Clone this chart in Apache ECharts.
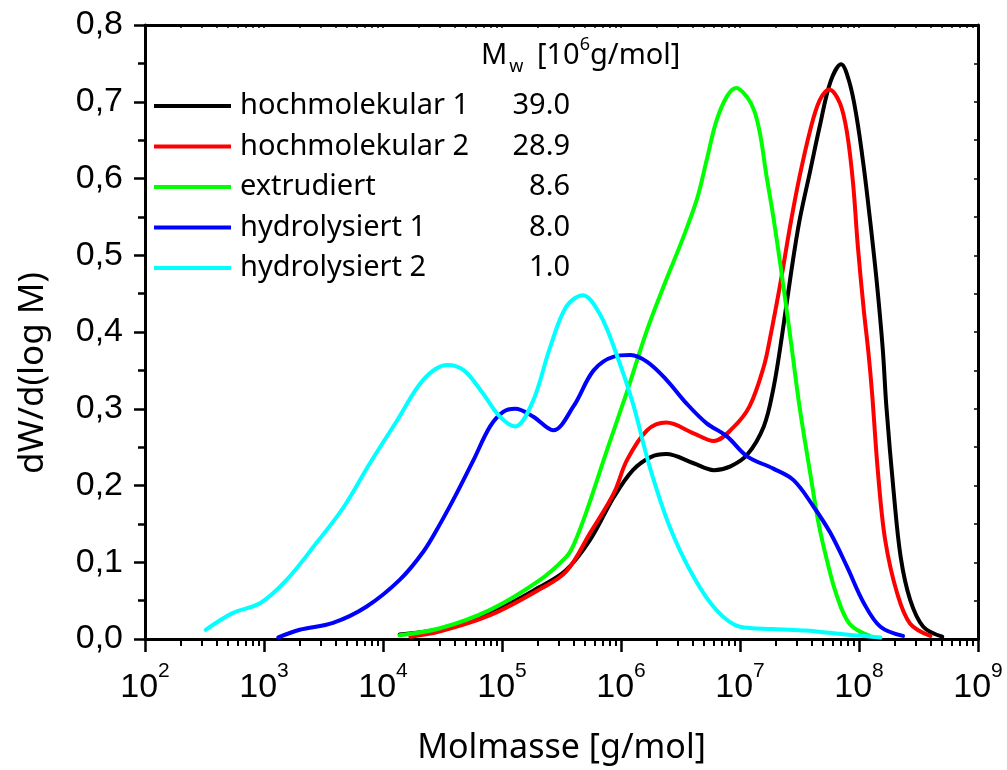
<!DOCTYPE html>
<html style="height: 100%">
<head>
<meta charset="utf-8">
<title>Molmassenverteilung</title>
<script src="https://cdn.jsdelivr.net/npm/echarts@6/dist/echarts.min.js"></script>
</head>
<body style="height: 100%; margin: 0; background: #fff">
<div id="main" style="width: 1007px; height: 770px;"></div>
<script type="text/javascript">
// x = log10(M / g/mol), y = dW/d(log M)
var hochmolekular1 = [[4.14,0.006],[4.48,0.013],[4.90,0.034],[5.32,0.068],[5.54,0.090],[5.74,0.129],[5.94,0.185],[6.10,0.220],[6.25,0.237],[6.38,0.241],[6.61,0.229],[6.78,0.220],[6.92,0.225],[7.06,0.240],[7.20,0.277],[7.28,0.326],[7.35,0.392],[7.43,0.478],[7.50,0.545],[7.59,0.610],[7.67,0.668],[7.76,0.726],[7.85,0.749],[7.92,0.725],[7.98,0.680],[8.04,0.615],[8.09,0.550],[8.15,0.464],[8.20,0.377],[8.23,0.303],[8.29,0.194],[8.35,0.107],[8.43,0.051],[8.54,0.016],[8.70,0.003]];
var hochmolekular2 = [[4.23,0.003],[4.48,0.010],[4.90,0.031],[5.32,0.065],[5.54,0.088],[5.74,0.138],[5.94,0.190],[6.05,0.233],[6.22,0.272],[6.38,0.282],[6.61,0.268],[6.78,0.258],[6.94,0.275],[7.08,0.303],[7.20,0.355],[7.25,0.390],[7.34,0.464],[7.42,0.537],[7.50,0.602],[7.59,0.663],[7.67,0.702],[7.75,0.716],[7.84,0.698],[7.90,0.659],[7.95,0.594],[7.99,0.512],[8.04,0.429],[8.08,0.372],[8.11,0.320],[8.16,0.216],[8.22,0.129],[8.32,0.060],[8.43,0.020],[8.60,0.004]];
var extrudiert = [[4.14,0.005],[4.48,0.014],[4.90,0.038],[5.32,0.077],[5.54,0.107],[5.60,0.122],[5.71,0.166],[5.88,0.245],[6.05,0.322],[6.22,0.403],[6.38,0.468],[6.52,0.522],[6.64,0.574],[6.72,0.624],[6.80,0.674],[6.89,0.707],[6.97,0.718],[7.06,0.706],[7.12,0.688],[7.17,0.657],[7.22,0.606],[7.28,0.550],[7.34,0.487],[7.39,0.431],[7.43,0.385],[7.50,0.303],[7.59,0.216],[7.66,0.151],[7.73,0.103],[7.81,0.058],[7.92,0.020],[8.09,0.004]];
var hydrolysiert1 = [[3.12,0.002],[3.30,0.012],[3.58,0.021],[3.86,0.042],[4.14,0.077],[4.34,0.114],[4.48,0.150],[4.62,0.190],[4.76,0.233],[4.90,0.277],[5.01,0.296],[5.11,0.300],[5.26,0.290],[5.43,0.272],[5.60,0.303],[5.77,0.350],[5.94,0.368],[6.08,0.370],[6.22,0.361],[6.38,0.338],[6.55,0.307],[6.72,0.281],[6.89,0.264],[7.06,0.238],[7.28,0.222],[7.45,0.207],[7.62,0.172],[7.76,0.138],[7.90,0.094],[8.04,0.047],[8.18,0.016],[8.37,0.004]];
var hydrolysiert2 = [[2.51,0.012],[2.74,0.034],[2.97,0.047],[3.19,0.077],[3.44,0.125],[3.67,0.172],[3.89,0.229],[4.12,0.285],[4.34,0.338],[4.54,0.357],[4.68,0.350],[4.84,0.320],[4.98,0.290],[5.11,0.277],[5.26,0.310],[5.40,0.378],[5.54,0.433],[5.68,0.448],[5.82,0.424],[5.96,0.372],[6.10,0.307],[6.24,0.225],[6.41,0.146],[6.61,0.081],[6.80,0.038],[7.00,0.016],[7.28,0.013],[7.56,0.011],[7.75,0.008],[7.95,0.005],[8.18,0.002]];

var names = ['hochmolekular 1', 'hochmolekular 2', 'extrudiert', 'hydrolysiert 1', 'hydrolysiert 2'];
var mw = ['39.0', '28.9', '8.6', '8.0', '1.0'];
var colors = ['#000000', '#ff0000', '#00ff00', '#0000ff', '#00ffff'];
var curves = [hochmolekular1, hochmolekular2, extrudiert, hydrolysiert1, hydrolysiert2];
var decades = [2, 3, 4, 5, 6, 7, 8, 9];

// minor tick positions log10(k * 10^n)
var minorTicks = [];
for (var d = 2; d < 9; d++) {
  for (var k = 2; k <= 9; k++) minorTicks.push(d + Math.log10(k));
}

var dom = document.getElementById('main');
var myChart = echarts.init(dom, null, {renderer: 'canvas'});

var series = [];
for (var i = 0; i < curves.length; i++) {
  series.push({
    name: names[i],
    type: 'line',
    data: curves[i],
    smooth: 0.35,
    showSymbol: false,
    color: colors[i],
    lineStyle: {color: colors[i], width: 4, cap: 'round', join: 'round'},
    xAxisIndex: 0,
    yAxisIndex: 0,
    animation: false
  });
}

var option = {
  backgroundColor: '#fff',
  animation: false,
  title: {
    text: '{m|M}{s|w}{m| [10}{p|6}{m|g/mol]}',
    left: 481,
    top: 36,
    padding: 0,
    textStyle: {
      fontWeight: 'normal',
      rich: {
        m: {fontFamily: 'Noto Sans', fontSize: 29, fontWeight: 'normal', color: '#000', lineHeight: 40, verticalAlign: 'middle'},
        s: {fontFamily: 'Noto Sans', fontSize: 18, fontWeight: 'normal', color: '#000', lineHeight: 40, verticalAlign: 'bottom', padding: [0, 6, 0, 2]},
        p: {fontFamily: 'Noto Sans', fontSize: 18, fontWeight: 'normal', color: '#000', lineHeight: 40, verticalAlign: 'top'}
      }
    }
  },
  graphic: [{
    type: 'text',
    x: 33,
    y: 373,
    rotation: Math.PI / 2,
    style: {
      text: 'dW/d(log M)',
      fontFamily: 'Noto Sans',
      fontSize: 35,
      fill: '#000',
      align: 'center',
      verticalAlign: 'middle'
    }
  }],
  legend: {
    data: names,
    orient: 'vertical',
    left: 154,
    top: 91,
    padding: 0,
    icon: 'rect',
    itemWidth: 77,
    itemHeight: 4,
    itemGap: 10.5,
    selectedMode: false,
    formatter: function (name) {
      return '{n|' + name + '}{v|' + mw[names.indexOf(name)] + '}';
    },
    textStyle: {
      color: '#000',
      fontFamily: 'Noto Sans',
      fontSize: 29,
      lineHeight: 30,
      padding: [0, 0, 0, 4],
      rich: {
        n: {fontFamily: 'Noto Sans', fontSize: 29, lineHeight: 30, width: 258},
        v: {fontFamily: 'Noto Sans', fontSize: 29, lineHeight: 30, width: 72, align: 'right'}
      }
    }
  },
  grid: {left: 145, right: 29, top: 25, bottom: 131, containLabel: false, outerBoundsMode: 'none'},
  xAxis: [
    {
      type: 'value', position: 'bottom', min: 2, max: 9, interval: 1,
      name: 'Molmasse [g/mol]', nameLocation: 'middle', nameGap: 92,
      nameTextStyle: {fontFamily: 'Noto Sans', fontSize: 34, color: '#000'},
      axisLine: {show: true, onZero: false, lineStyle: {color: '#000', width: 3}},
      axisTick: {show: true, inside: false, length: 13, lineStyle: {color: '#000', width: 2.5}},
      splitLine: {show: false},
      axisLabel: {
        margin: 22,
        formatter: function (v) { return '{b|10}{e|' + v + '}'; },
        rich: {
          b: {fontFamily: 'Liberation Sans', fontSize: 34, color: '#000', lineHeight: 44, verticalAlign: 'bottom'},
          e: {fontFamily: 'Liberation Sans', fontSize: 21, color: '#000', lineHeight: 44, verticalAlign: 'top'}
        }
      }
    },
    {
      type: 'value', position: 'bottom', min: 2, max: 9,
      axisLine: {show: false},
      axisTick: {show: true, inside: false, length: 7, customValues: minorTicks, lineStyle: {color: '#000', width: 2}},
      axisLabel: {show: false},
      splitLine: {show: false}
    },
    {
      type: 'value', position: 'top', min: 2, max: 9,
      axisLine: {show: true, onZero: false, lineStyle: {color: '#000', width: 3}},
      axisTick: {show: true, inside: true, length: 3, customValues: minorTicks.concat(decades), lineStyle: {color: '#000', width: 1.5}},
      axisLabel: {show: false},
      splitLine: {show: false}
    }
  ],
  yAxis: [
    {
      type: 'value', position: 'left', min: 0, max: 0.8, interval: 0.1,
      axisLine: {show: true, onZero: false, lineStyle: {color: '#000', width: 3}},
      axisTick: {show: true, inside: false, length: 11, lineStyle: {color: '#000', width: 2.5}},
      minorTick: {show: true, splitNumber: 2, length: 7, lineStyle: {color: '#000', width: 2.5}},
      splitLine: {show: false},
      axisLabel: {
        margin: 22, color: '#000', fontFamily: 'Liberation Sans', fontSize: 34,
        formatter: function (v) { return v.toFixed(1).replace('.', ','); }
      }
    },
    {
      type: 'value', position: 'right', min: 0, max: 0.8, interval: 0.05,
      axisLine: {show: true, onZero: false, lineStyle: {color: '#000', width: 3}},
      axisTick: {show: true, inside: true, length: 4, lineStyle: {color: '#000', width: 1.5}},
      axisLabel: {show: false},
      splitLine: {show: false}
    }
  ],
  series: series
};

myChart.setOption(option, true);
</script>
</body>
</html>
